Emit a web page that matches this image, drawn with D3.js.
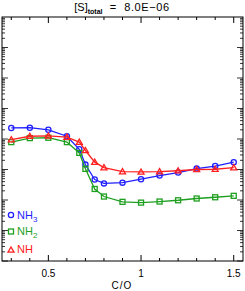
<!DOCTYPE html>
<html>
<head>
<meta charset="utf-8">
<script src="https://cdn.jsdelivr.net/npm/d3@7"></script>
<style>
  body { margin: 0; background: #fff; }
  text { font-family: "Liberation Sans", Arial, sans-serif; }
</style>
</head>
<body>
<div id="chart"></div>
<script>
var co = [0.3, 0.4, 0.5, 0.6, 0.667, 0.7, 0.75, 0.8, 0.9, 1.0, 1.1, 1.2, 1.3, 1.4, 1.5];
var nh3 = [2.3e-8, 2.35e-8, 2.0e-8, 1.23e-8, 4.6e-9, 1.45e-9, 4.7e-10, 3.5e-10, 3.7e-10, 4.8e-10, 6.3e-10, 7.9e-10, 1.07e-9, 1.3e-9, 1.74e-9];
var nh2 = [7.9e-9, 1.07e-8, 1.1e-8, 7.9e-9, 3.5e-9, 1.05e-9, 2.3e-10, 1.3e-10, 8.7e-11, 8.2e-11, 8.9e-11, 9.8e-11, 1.12e-10, 1.23e-10, 1.37e-10];
var nh = [9.5e-9, 1.23e-8, 1.26e-8, 1.15e-8, 7.9e-9, 4.2e-9, 1.74e-9, 1.15e-9, 8.5e-10, 8.3e-10, 8.5e-10, 9.1e-10, 1.0e-9, 1.02e-9, 1.15e-9];
var xTickLabels = [0.5, 1, 1.5];

var width = 245, height = 291;
var plotLeft = 2, plotRight = 243, plotTop = 17, plotBottom = 261;

var svg = d3.select("#chart").append("svg")
  .attr("width", width)
  .attr("height", height);

var x = d3.scaleLinear().domain([0.25, 1.55]).range([plotLeft, plotRight]);
var y = d3.scaleLog().domain([1e-12, 1e-4]).range([plotBottom, plotTop]);

// frame
svg.append("rect")
  .attr("x", plotLeft).attr("y", plotTop)
  .attr("width", plotRight - plotLeft).attr("height", plotBottom - plotTop)
  .attr("fill", "none").attr("stroke", "#000").attr("stroke-width", 1);

// x ticks (bottom and top)
var xMinor = d3.range(3, 16).map(function(d){ return d / 10; });
xMinor.forEach(function(v){
  var major = xTickLabels.indexOf(v) >= 0;
  var len = major ? 6 : 3;
  svg.append("line").attr("x1", x(v)).attr("x2", x(v))
    .attr("y1", plotBottom).attr("y2", plotBottom - len).attr("stroke", "#000");
  svg.append("line").attr("x1", x(v)).attr("x2", x(v))
    .attr("y1", plotTop).attr("y2", plotTop + len).attr("stroke", "#000");
});

// y log ticks (left and right)
for (var e = -12; e < -4; e++) {
  for (var m = 1; m <= 9; m++) {
    var v = m * Math.pow(10, e);
    var len = m == 1 ? 6 : 3;
    svg.append("line").attr("x1", plotLeft).attr("x2", plotLeft + len)
      .attr("y1", y(v)).attr("y2", y(v)).attr("stroke", "#000").attr("stroke-width", 0.8);
    svg.append("line").attr("x1", plotRight).attr("x2", plotRight - len)
      .attr("y1", y(v)).attr("y2", y(v)).attr("stroke", "#000").attr("stroke-width", 0.8);
  }
}

svg.selectAll(".xlab")
  .data(xTickLabels)
  .enter()
  .append("text")
  .attr("class", "xlab")
  .attr("x", function(d){ return x(d); })
  .attr("y", 277)
  .attr("text-anchor", "middle")
  .attr("font-size", 10)
  .text(function(d){ return d; });

svg.append("text")
  .attr("x", 122).attr("y", 289)
  .attr("text-anchor", "middle")
  .attr("font-size", 10)
  .attr("letter-spacing", 1)
  .text("C/O");

var title = svg.append("text")
  .attr("x", 122).attr("y", 11)
  .attr("text-anchor", "middle")
  .attr("font-size", 11)
  .style("white-space", "pre");
title.append("tspan").text("[S]");
title.append("tspan").attr("font-size", 7).attr("font-weight", "bold").attr("dy", 3).text("total");
title.append("tspan").attr("dy", -3).attr("letter-spacing", 0.6).text("  =  8.0E\u221206");

var series = [
  {name: "NH3", vals: nh3, color: "#1f1fff", shape: "circle"},
  {name: "NH2", vals: nh2, color: "#1f9f1f", shape: "square"},
  {name: "NH", vals: nh, color: "#ff2020", shape: "triangle"}
];

var line = d3.line()
  .x(function(d){ return x(d[0]); })
  .y(function(d){ return y(d[1]); });

function marker(g, shape, cx, cy, color) {
  if (shape == "circle") {
    g.append("circle").attr("cx", cx).attr("cy", cy).attr("r", 2.6)
      .attr("fill", "none").attr("stroke", color).attr("stroke-width", 1.3);
  } else if (shape == "square") {
    g.append("rect").attr("x", cx - 2.5).attr("y", cy - 2.5)
      .attr("width", 5).attr("height", 5)
      .attr("fill", "none").attr("stroke", color).attr("stroke-width", 1.3);
  } else {
    g.append("path")
      .attr("d", "M" + cx + "," + (cy - 3) + "L" + (cx + 3) + "," + (cy + 2.2) + "L" + (cx - 3) + "," + (cy + 2.2) + "Z")
      .attr("fill", "none").attr("stroke", color).attr("stroke-width", 1.3);
  }
}

series.forEach(function(s){
  var pts = co.map(function(c, i){ return [c, s.vals[i]]; });
  svg.append("path")
    .attr("d", line(pts))
    .attr("fill", "none")
    .attr("stroke", s.color)
    .attr("stroke-width", 1.3);
  var g = svg.append("g");
  pts.forEach(function(p){ marker(g, s.shape, x(p[0]), y(p[1]), s.color); });
});

// legend
var legY = [215, 231.5, 250];
var legBase = [218.5, 235, 253];
var legNames = [["NH", "3"], ["NH", "2"], ["NH", ""]];
series.forEach(function(s, i){
  var g = svg.append("g");
  marker(g, s.shape, 11, legY[i], s.color);
  var t = g.append("text").attr("x", 17).attr("y", legBase[i])
    .attr("font-size", 11).attr("fill", s.color);
  t.append("tspan").text(legNames[i][0]);
  if (legNames[i][1]) t.append("tspan").attr("font-size", 8).attr("dy", 3).text(legNames[i][1]);
});
</script>
</body>
</html>
